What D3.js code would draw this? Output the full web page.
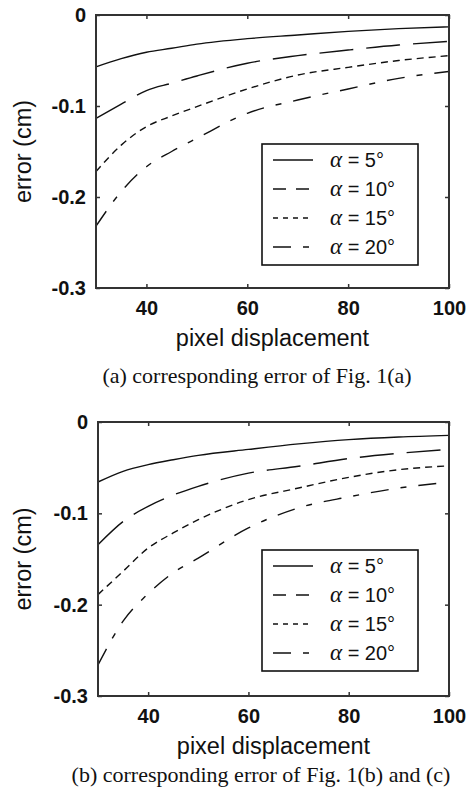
<!DOCTYPE html>
<html>
<head>
<meta charset="utf-8">
<script src="https://cdn.jsdelivr.net/npm/d3@7"></script>
<style>
  body { margin: 0; background: #fff; }
  svg { display: block; }
</style>
</head>
<body>
<div id="chart"></div>
<script>
// values
var pixelDisp = [30, 35, 40, 45, 50, 60, 70, 80, 90, 100];
var angles = [5, 10, 15, 20];

var errA5  = [-0.057, -0.048, -0.041, -0.0366, -0.032, -0.026, -0.022, -0.018, -0.015, -0.013];
var errA10 = [-0.1135, -0.098, -0.083, -0.075, -0.067, -0.053, -0.0447, -0.0385, -0.033, -0.029];
var errA15 = [-0.172, -0.143, -0.1227, -0.111, -0.1007, -0.0813, -0.066, -0.0575, -0.050, -0.0447];
var errA20 = [-0.232, -0.194, -0.1667, -0.150, -0.1355, -0.108, -0.0934, -0.0813, -0.0696, -0.062];

var errB5  = [-0.0657, -0.054, -0.0467, -0.0413, -0.0365, -0.030, -0.024, -0.0193, -0.0164, -0.0146];
var errB10 = [-0.1344, -0.109, -0.0923, -0.080, -0.0704, -0.056, -0.0485, -0.040, -0.0343, -0.030];
var errB15 = [-0.189, -0.1635, -0.138, -0.1215, -0.107, -0.085, -0.0723, -0.0606, -0.0522, -0.048];
var errB20 = [-0.266, -0.218, -0.188, -0.165, -0.149, -0.116, -0.094, -0.082, -0.0723, -0.066];

var xTicks = [40, 60, 80, 100];
var yTicks = [0, -0.1, -0.2, -0.3];
var xLabel = "pixel displacement";
var yLabel = "error (cm)";
var captionA = "(a) corresponding error of Fig. 1(a)";
var captionB = "(b) corresponding error of Fig. 1(b) and (c)";

// dash patterns: curve, legend sample
var dashes = ["none", "34,13", "7,5", "18,12,6,12"];
var legendDashes = ["none", "13,10", "5,5", "18,12,6,12"];

var W = 468, H = 793;
var sans = "'Liberation Sans', Arial, Helvetica, sans-serif";
var serif = "'Liberation Serif', 'Times New Roman', serif";

var svg = d3.select("#chart").append("svg")
    .attr("width", W)
    .attr("height", H);

function panel(opts)
{
    var x = d3.scaleLinear().domain([30, 100]).range([opts.left, opts.right]);
    var y = d3.scaleLinear().domain([0, -0.3]).range([opts.top, opts.bottom]);

    var g = svg.append("g");

    // curves
    var line = d3.line()
        .x(function(d) { return x(d[0]); })
        .y(function(d) { return y(d[1]); })
        .curve(d3.curveMonotoneX);

    opts.series.forEach(function(vals, i) {
        g.append("path")
            .datum(pixelDisp.map(function(p, j) { return [p, vals[j]]; }))
            .attr("d", line)
            .attr("fill", "none")
            .attr("stroke", "#111")
            .attr("stroke-width", 1.4)
            .attr("stroke-dasharray", dashes[i]);
    });

    // axes, ticks inward on all four sides
    var tk = 4;
    g.append("g")
        .attr("transform", "translate(0," + opts.bottom + ")")
        .call(d3.axisBottom(x).tickValues(xTicks).tickSize(-tk).tickSizeOuter(0).tickPadding(13))
        .call(styleAxis);
    g.append("g")
        .attr("transform", "translate(0," + opts.top + ")")
        .call(d3.axisTop(x).tickValues(xTicks).tickSize(-tk).tickSizeOuter(0).tickFormat(""))
        .call(styleAxis);
    g.append("g")
        .attr("transform", "translate(" + opts.left + ",0)")
        .call(d3.axisLeft(y).tickValues(yTicks).tickSize(-tk).tickSizeOuter(0).tickPadding(10)
            .tickFormat(function(d) { return d === 0 ? "0" : d.toFixed(1); }))
        .call(styleAxis);
    g.append("g")
        .attr("transform", "translate(" + opts.right + ",0)")
        .call(d3.axisRight(y).tickValues(yTicks).tickSize(-tk).tickSizeOuter(0).tickFormat(""))
        .call(styleAxis);

    g.selectAll(".tick text")
        .attr("font-family", sans)
        .attr("font-size", 20)
        .attr("font-weight", "bold")
        .attr("fill", "#111");

    // box
    g.append("rect")
        .attr("x", opts.left)
        .attr("y", opts.top)
        .attr("width", opts.right - opts.left)
        .attr("height", opts.bottom - opts.top)
        .attr("fill", "none")
        .attr("stroke", "#333")
        .attr("stroke-width", 2);

    // axis titles
    g.append("text")
        .attr("x", (opts.left + opts.right) / 2)
        .attr("y", opts.bottom + 58)
        .attr("text-anchor", "middle")
        .attr("font-family", sans)
        .attr("font-size", 23.5)
        .attr("fill", "#111")
        .text(xLabel);
    g.append("text")
        .attr("transform", "translate(31," + ((opts.top + opts.bottom) / 2) + ") rotate(-90)")
        .attr("text-anchor", "middle")
        .attr("font-family", sans)
        .attr("font-size", 23.5)
        .attr("fill", "#111")
        .text(yLabel);

    // legend
    var lg = g.append("g").attr("transform", "translate(" + opts.legX + "," + opts.legY + ")");
    lg.append("rect")
        .attr("width", 156)
        .attr("height", 121)
        .attr("fill", "#fff")
        .attr("stroke", "#111")
        .attr("stroke-width", 1.6);
    angles.forEach(function(a, i) {
        var ry = 16 + i * 29;
        lg.append("line")
            .attr("x1", 11).attr("x2", 51)
            .attr("y1", ry).attr("y2", ry)
            .attr("stroke", "#111")
            .attr("stroke-width", 1.6)
            .attr("stroke-dasharray", legendDashes[i]);
        var t = lg.append("text")
            .attr("x", 68)
            .attr("y", ry + 7)
            .attr("font-family", sans)
            .attr("font-size", 20)
            .attr("fill", "#111");
        t.append("tspan")
            .attr("font-family", serif)
            .attr("font-style", "italic")
            .attr("font-size", 23)
            .text("\u03b1");
        t.append("tspan").text(" = " + a + "\u00b0");
    });

    // caption
    svg.append("text")
        .attr("x", opts.capX)
        .attr("y", opts.capY)
        .attr("text-anchor", "middle")
        .attr("font-family", serif)
        .attr("font-size", 22)
        .attr("fill", "#111")
        .text(opts.caption);
}

function styleAxis(sel)
{
    sel.select(".domain").remove();
    sel.selectAll(".tick line").attr("stroke", "#333").attr("stroke-width", 1.5);
}

panel({
    left: 96, right: 449, top: 15, bottom: 288,
    series: [errA5, errA10, errA15, errA20],
    legX: 262, legY: 144,
    caption: captionA, capX: 257, capY: 383
});

panel({
    left: 98, right: 449, top: 422, bottom: 696,
    series: [errB5, errB10, errB15, errB20],
    legX: 262, legY: 550,
    caption: captionB, capX: 261, capY: 782
});
</script>
</body>
</html>
